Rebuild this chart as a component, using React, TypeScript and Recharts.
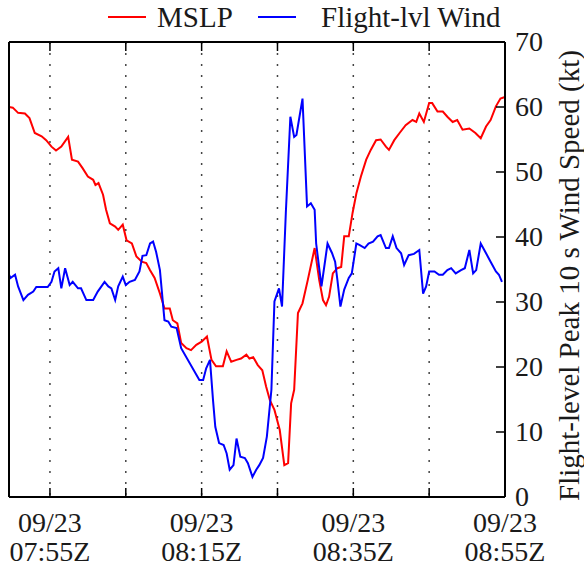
import { CartesianGrid, Line, LineChart, XAxis, YAxis } from "recharts";

const FONT = "'Liberation Serif', 'DejaVu Serif', serif";
const INK = "#1a1a1a";

// time axis: minutes after 07:00Z on 09/23
const dateLabel = "09/23";
const timeDomain = [49.6, 115];
const timeTicks = [55, 65, 75, 85, 95, 105, 115];
const labeledTimes = [55, 75, 95, 115];
const windTicks = [0, 10, 20, 30, 40, 50, 60, 70];

// MSLP (no axis drawn, plotted on its own hidden scale)
const mslpTimes = [
  49.6, 50.1, 50.8, 51.7, 52.3, 53.0, 53.9, 54.5, 55.2, 55.8, 56.5, 57.4, 57.9, 58.7, 59.3, 60.0,
  60.7, 61.0, 61.4, 62.0, 62.4, 62.9, 63.6, 64.0, 64.6, 65.1, 65.8, 66.4, 67.1, 67.7, 68.2, 68.8,
  69.5, 70.1, 70.8, 71.2, 71.8, 72.3, 73.0, 73.6, 74.3, 75.0, 75.7, 76.3, 76.9, 77.8, 78.3, 78.9,
  79.6, 80.2, 80.9, 81.3, 81.8, 82.4, 83.0, 83.5, 84.0, 84.6, 85.3, 85.9, 86.4, 86.8, 87.2, 87.7,
  88.3, 89.0, 89.9, 90.5, 91.0, 91.4, 91.8, 92.3, 92.9, 93.4, 93.8, 94.4, 94.9, 95.4, 96.0, 96.7,
  97.3, 98.0, 98.6, 99.3, 99.7, 100.4, 101.1, 101.9, 102.8, 103.3, 103.7, 104.3, 105.0, 105.4,
  106.1, 106.8, 107.4, 108.1, 108.7, 109.4, 110.3, 111.1, 111.8, 112.5, 113.1, 113.8, 114.4, 114.9,
];
const mslpValues = [
  60.0, 59.9, 59.1, 59.0, 58.3, 56.0, 55.5, 54.9, 53.9, 53.3, 53.9, 55.4, 51.9, 51.6, 50.6, 49.3,
  48.8, 48.0, 48.3, 46.5, 44.2, 42.1, 41.6, 41.1, 41.9, 39.5, 39.0, 37.0, 36.2, 36.0, 34.9, 33.7,
  31.3, 29.0, 29.0, 27.2, 26.7, 23.7, 22.9, 22.6, 23.4, 23.9, 24.7, 21.1, 20.1, 20.1, 22.4, 20.8,
  21.1, 21.3, 21.9, 21.3, 21.5, 20.3, 19.5, 17.0, 14.9, 13.4, 10.3, 4.9, 5.2, 14.4, 16.5, 28.3,
  29.8, 33.4, 38.3, 33.4, 30.3, 29.5, 30.8, 34.4, 35.2, 35.4, 40.1, 40.1, 43.7, 46.7, 49.3, 51.9,
  53.4, 54.9, 55.0, 53.9, 53.4, 54.9, 56.0, 57.2, 58.0, 57.7, 59.0, 57.7, 60.6, 60.6,
  59.3, 59.3, 58.5, 57.7, 58.0, 56.5, 56.7, 56.0, 55.2, 57.0, 58.0, 60.1, 61.3, 61.5,
];

// flight-level peak 10 s wind (kt)
const windTimes = [
  49.6, 49.8, 50.4, 50.8, 51.5, 52.1, 52.8, 53.2, 54.7, 55.2, 55.6, 56.1, 56.5, 57.0, 57.6, 58.0,
  58.7, 59.1, 59.8, 60.7, 61.3, 62.2, 62.7, 63.1, 63.6, 64.0, 64.6, 65.0, 65.5, 66.2, 66.8, 67.2,
  67.7, 68.2, 68.6, 69.0, 69.5, 70.1, 70.6, 71.0, 71.7, 72.3, 74.7, 75.2, 75.6, 76.1, 76.5, 76.8,
  77.3, 77.9, 78.3, 78.7, 79.2, 79.6, 80.1, 80.7, 81.1, 81.7, 82.2, 82.6, 83.1, 83.6, 84.2, 84.6,
  85.2, 85.6, 86.1, 86.7, 87.2, 87.5, 87.9, 88.3, 88.9, 89.4, 89.9, 90.1, 90.8, 91.3, 91.6, 92.2,
  92.6, 92.9, 93.3, 93.8, 94.4, 94.8, 95.4, 95.8, 96.5, 97.0, 97.6, 98.2, 98.6, 99.3, 99.7, 100.2,
  100.7, 101.3, 101.7, 102.3, 103.0, 103.7, 104.2, 104.6, 105.0, 105.7, 106.3, 106.8, 107.4,
  107.9, 108.5, 109.2, 109.7, 110.3, 110.8, 111.2, 111.8, 112.5, 113.1, 113.8, 114.2, 114.6,
];
const windValues = [
  34.2, 33.7, 34.2, 32.4, 30.3, 31.1, 31.6, 32.3, 32.3, 33.1, 34.7, 35.2, 32.1, 35.2, 32.6, 33.1,
  32.1, 32.1, 30.3, 30.3, 31.6, 33.1, 32.4, 32.1, 30.3, 32.4, 33.9, 32.6, 33.1, 33.4, 34.7, 37.1,
  37.2, 39.0, 39.3, 37.7, 34.9, 27.2, 27.0, 26.2, 26.0, 22.9, 18.0, 18.0, 19.8, 21.1, 14.9, 10.8,
  8.3, 8.0, 6.7, 4.2, 4.9, 9.0, 6.2, 6.0, 5.2, 3.1, 4.2, 4.9, 6.0, 9.3, 16.5, 30.1,
  32.1, 29.3, 43.7, 58.5, 55.4, 55.7, 58.5, 61.3, 44.7, 45.2, 44.2, 39.0, 32.4, 36.5, 39.0, 37.5,
  36.2, 33.4, 29.3, 31.9, 33.7, 34.4, 39.0, 38.8, 38.3, 39.0, 39.3, 40.1, 40.3, 38.3, 38.3, 40.1,
  38.3, 37.5, 35.7, 37.2, 37.4, 38.0, 31.3, 32.4, 34.7, 34.7, 34.2, 34.2, 34.9,
  35.2, 34.4, 34.9, 35.2, 38.0, 34.4, 34.9, 39.0, 37.5, 36.2, 34.7, 34.2, 33.1,
];

const series = [
  { name: "MSLP", color: "#ff0000" },
  { name: "Flight-lvl Wind", color: "#0000ff" },
];

const mslpData = mslpTimes.map((t, i) => ({ t, v: mslpValues[i] }));
const windData = windTimes.map((t, i) => ({ t, v: windValues[i] }));

function clock(m: number) {
  const h = 7 + Math.floor(m / 60);
  const mm = m % 60;
  return `${String(h).padStart(2, "0")}:${String(mm).padStart(2, "0")}Z`;
}

function BottomTick({ x, y, payload }: any) {
  const show = labeledTimes.includes(payload.value);
  return (
    <g>
      <line x1={x} x2={x} y1={y} y2={y - 9} stroke="#000" strokeWidth={1.5} />
      {show && (
        <text textAnchor="middle" fontFamily={FONT} fontSize={28} fill={INK}>
          <tspan x={x} y={y + 35}>{dateLabel}</tspan>
          <tspan x={x} y={y + 64}>{clock(payload.value)}</tspan>
        </text>
      )}
    </g>
  );
}

function TopTick({ x, y }: any) {
  return <line x1={x} x2={x} y1={y} y2={y + 9} stroke="#000" strokeWidth={1.5} />;
}

function RightTick({ x, y, payload }: any) {
  return (
    <g>
      <line x1={x} x2={x - 9} y1={y} y2={y} stroke="#000" strokeWidth={1.5} />
      <text x={x + 10} y={y} dy="0.33em" fontFamily={FONT} fontSize={28} fill={INK}>
        {payload.value}
      </text>
    </g>
  );
}

function WindLabel({ viewBox }: any) {
  const cx = viewBox.x + 64;
  const cy = viewBox.y + viewBox.height / 2 + 6;
  return (
    <text
      x={cx}
      y={cy}
      transform={`rotate(-90 ${cx} ${cy})`}
      textAnchor="middle"
      dominantBaseline="central"
      fontFamily={FONT}
      fontSize={29}
      fill={INK}
    >
      Flight-level Peak 10 s Wind Speed (kt)
    </text>
  );
}

export default function App() {
  return (
    <div style={{ position: "absolute", left: 0, top: 0, width: 584, height: 567, background: "#fff" }}>
      <LineChart width={584} height={567} margin={{ top: 41, right: 0, bottom: 0, left: 8 }}>
        <CartesianGrid
          horizontal={false}
          yAxisId="wind"
          stroke="#444"
          strokeWidth={1.5}
          strokeDasharray="2 9"
        />
        <XAxis
          dataKey="t"
          type="number"
          domain={timeDomain}
          ticks={timeTicks}
          interval={0}
          allowDataOverflow
          height={70}
          tickSize={0}
          tickMargin={0}
          tickLine={false}
          tick={<BottomTick />}
          axisLine={{ stroke: "#000", strokeWidth: 2 }}
        />
        <XAxis
          xAxisId="top"
          dataKey="t"
          orientation="top"
          type="number"
          domain={timeDomain}
          ticks={timeTicks}
          interval={0}
          allowDataOverflow
          height={1}
          tickSize={0}
          tickMargin={0}
          tickLine={false}
          tick={<TopTick />}
          axisLine={{ stroke: "#000", strokeWidth: 2 }}
        />
        <YAxis
          yAxisId="mslp"
          orientation="left"
          domain={[0, 70]}
          width={1}
          tick={false}
          tickLine={false}
          axisLine={{ stroke: "#000", strokeWidth: 2 }}
        />
        <YAxis
          yAxisId="wind"
          orientation="right"
          domain={[0, 70]}
          ticks={windTicks}
          interval={0}
          width={79}
          tickSize={0}
          tickMargin={0}
          tickLine={false}
          tick={<RightTick />}
          axisLine={{ stroke: "#000", strokeWidth: 2 }}
          label={<WindLabel />}
        />
        {/* invisible copy so the top frame axis has something bound to it */}
        <Line
          data={windData}
          xAxisId="top"
          yAxisId="wind"
          dataKey="v"
          stroke="none"
          strokeWidth={0}
          dot={false}
          activeDot={false}
          legendType="none"
          isAnimationActive={false}
        />
        <Line
          data={mslpData}
          yAxisId="mslp"
          dataKey="v"
          name={series[0].name}
          type="linear"
          stroke={series[0].color}
          strokeWidth={2}
          dot={false}
          isAnimationActive={false}
        />
        <Line
          data={windData}
          yAxisId="wind"
          dataKey="v"
          name={series[1].name}
          type="linear"
          stroke={series[1].color}
          strokeWidth={2}
          dot={false}
          isAnimationActive={false}
        />
      </LineChart>
      <svg width={584} height={40} style={{ position: "absolute", left: 0, top: 0 }}>
        <line x1={108} x2={146} y1={17} y2={17} stroke={series[0].color} strokeWidth={2} />
        <text x={157} y={27} fontFamily={FONT} fontSize={29} fill={INK}>
          {series[0].name}
        </text>
        <line x1={258} x2={296} y1={17} y2={17} stroke={series[1].color} strokeWidth={2} />
        <text x={321} y={27} fontFamily={FONT} fontSize={29} fill={INK}>
          {series[1].name}
        </text>
      </svg>
    </div>
  );
}
